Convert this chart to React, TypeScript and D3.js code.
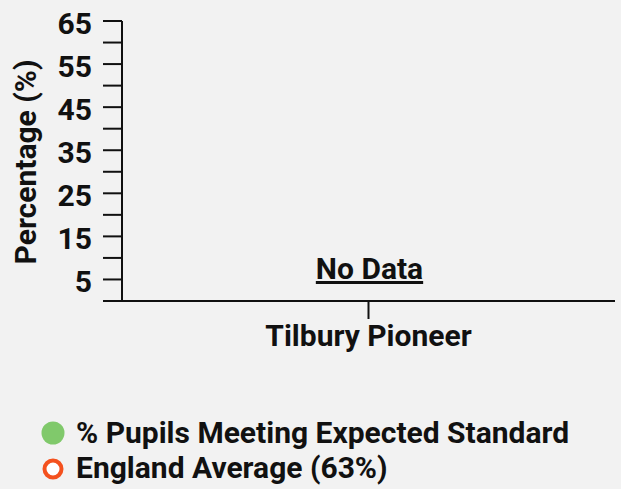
import React from "react";
import * as d3 from "d3";

const categories: string[] = ["Tilbury Pioneer"];
const pupilsMeeting: (number | null)[] = [null];
const englandAverage: number = 63;
const yTicks: number[] = [0, 5, 10, 15, 20, 25, 30, 35, 40, 45, 50, 55, 60, 65];
const yTickLabels: string[] = ["", "5", "", "15", "", "25", "", "35", "", "45", "", "55", "", "65"];
const legendLabels: string[] = ["% Pupils Meeting Expected Standard", `England Average (${englandAverage}%)`];

const W = 621;
const H = 489;
const margin = { left: 122, right: 6, top: 21, bottom: 188 };
const FONT = "Roboto, 'Noto Sans', sans-serif";
const FS = 30;
const GREEN = "#80c96b";
const ORANGE = "#f4511e";
const INK = "#111111";

export default function App() {
  const x = d3
    .scaleBand<string>()
    .domain(categories)
    .range([margin.left, W - margin.right]);
  const y = d3
    .scaleLinear()
    .domain([0, 65])
    .range([H - margin.bottom, margin.top]);
  const tickLen = 19;

  return (
    <svg
      width={W}
      height={H}
      style={{ position: "absolute", left: 0, top: 0, background: "#f2f2f2" }}
      fontFamily={FONT}
      fontWeight={700}
    >
      {/* y axis */}
      <line x1={margin.left} x2={margin.left} y1={y(65)} y2={y(0)} stroke={INK} strokeWidth={2} />
      {yTicks.map((t, i) => (
        <g key={t}>
          <line x1={margin.left - tickLen} x2={margin.left} y1={y(t)} y2={y(t)} stroke={INK} strokeWidth={2} />
          {yTickLabels[i] && (
            <text
              x={margin.left - tickLen - 11}
              y={y(t)}
              textAnchor="end"
              dy="0.43em"
              fontSize={FS}
              fill={INK}
            >
              {yTickLabels[i]}
            </text>
          )}
        </g>
      ))}
      {/* y title */}
      <text
        transform={`translate(36, 162) rotate(-90)`}
        textAnchor="middle"
        fontSize={FS}
        fill={INK}
      >
        Percentage (%)
      </text>
      {/* x axis */}
      <line x1={margin.left} x2={W - margin.right} y1={y(0)} y2={y(0)} stroke={INK} strokeWidth={2} />
      {categories.map((c, i) => {
        const cx = (x(c) as number) + x.bandwidth() / 2;
        return (
          <g key={c}>
            <line x1={cx} x2={cx} y1={y(0)} y2={y(0) + 18} stroke={INK} strokeWidth={2} />
            <text x={cx} y={y(0) + 45} textAnchor="middle" fontSize={FS} fill={INK}>
              {c}
            </text>
            {pupilsMeeting[i] == null && (
              <text
                x={cx + 1}
                y={y(0) - 22}
                textAnchor="middle"
                fontSize={FS}
                fill={INK}
                textDecoration="underline"
              >
                No Data
              </text>
            )}
          </g>
        );
      })}
      {/* legend */}
      <circle cx={53} cy={433} r={11.5} fill={GREEN} />
      <text x={76} y={443} fontSize={FS} fill={INK}>
        {legendLabels[0]}
      </text>
      <circle cx={53} cy={469} r={8.5} fill="#ffffff" stroke={ORANGE} strokeWidth={4} />
      <text x={76} y={478} fontSize={FS} fill={INK}>
        {legendLabels[1]}
      </text>
    </svg>
  );
}
